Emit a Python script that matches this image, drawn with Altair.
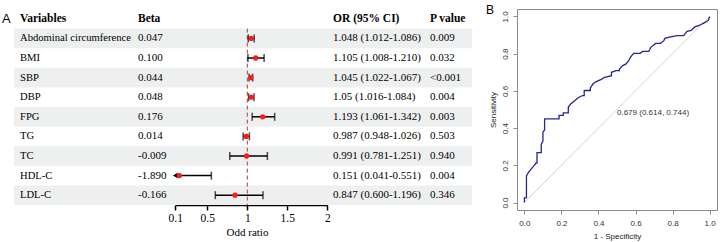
import altair as alt
import pandas as pd

# ---------------- Panel A data ----------------
variables = ["Abdominal circumference", "BMI", "SBP", "DBP", "FPG", "TG", "TC", "HDL-C", "LDL-C"]
beta = ["0.047", "0.100", "0.044", "0.048", "0.176", "0.014", "-0.009", "-1.890", "-0.166"]
odds = [1.048, 1.105, 1.045, 1.05, 1.193, 0.987, 0.991, 0.151, 0.847]
ci_low = [1.012, 1.008, 1.022, 1.016, 1.061, 0.948, 0.781, 0.041, 0.600]
ci_high = [1.086, 1.210, 1.067, 1.084, 1.342, 1.026, 1.251, 0.551, 1.196]
or_text = ["1.048 (1.012-1.086)", "1.105 (1.008-1.210)", "1.045 (1.022-1.067)",
           "1.05 (1.016-1.084)", "1.193 (1.061-1.342)", "0.987 (0.948-1.026)",
           "0.991 (0.781-1.251)", "0.151 (0.041-0.551)", "0.847 (0.600-1.196)"]
p_values = ["0.009", "0.032", "<0.001", "0.004", "0.003", "0.503", "0.940", "0.004", "0.346"]
or_ticks = [0.1, 0.5, 1, 1.5, 2]
or_min = 0.1
reference_or = [1]

# ---------------- Panel B data ----------------
roc_fpr = [0, 0, 0.011, 0.011, 0.023, 0.036, 0.05, 0.064, 0.068, 0.068, 0.091, 0.091,
           0.1, 0.1, 0.109, 0.109, 0.187, 0.187, 0.21, 0.21, 0.237, 0.237, 0.25, 0.273,
           0.29, 0.314, 0.323, 0.323, 0.356, 0.356, 0.371, 0.388, 0.415, 0.433, 0.47,
           0.47, 0.495, 0.513, 0.513, 0.531, 0.549, 0.563, 0.575, 0.59, 0.625, 0.638,
           0.672, 0.682, 0.709, 0.735, 0.753, 0.758, 0.79, 0.825, 0.86, 0.878, 0.9,
           0.922, 0.94, 0.976, 0.994, 1]
roc_tpr = [0, 0.025, 0.025, 0.143, 0.164, 0.18, 0.196, 0.214, 0.214, 0.268, 0.268, 0.312,
           0.33, 0.378, 0.39, 0.45, 0.45, 0.468, 0.468, 0.482, 0.482, 0.512, 0.53, 0.548,
           0.563, 0.575, 0.575, 0.602, 0.602, 0.616, 0.638, 0.65, 0.662, 0.673, 0.682,
           0.7, 0.709, 0.709, 0.718, 0.736, 0.745, 0.762, 0.784, 0.802, 0.802, 0.812,
           0.812, 0.834, 0.855, 0.855, 0.87, 0.882, 0.89, 0.897, 0.897, 0.92, 0.925,
           0.945, 0.95, 0.968, 0.98, 1]
diag = [0, 1]
roc_ticks = [0, 0.2, 0.4, 0.6, 0.8, 1.0]
auc_label = "0.679 (0.614, 0.744)"
auc_pos = (0.5, 0.48)

# ---------------- layout constants ----------------
SERIF = "Liberation Serif"
SANS = "Liberation Sans"
STEP = 19.6
HA = STEP * 10
WA = 472
HEADER = " "
B_TOP = 8.3  # gap above panel B's frame

rows = pd.DataFrame({
    "var": variables, "beta": beta, "or": odds, "lo": ci_low, "hi": ci_high,
    "ortxt": or_text, "p": p_values,
    "shade": [i % 2 == 0 for i in range(len(variables))],
})
header = pd.DataFrame({"var": [HEADER]})
ref = pd.DataFrame({"ref": reference_or})

yenc = alt.Y("var:N", scale=alt.Scale(domain=[HEADER] + variables, paddingInner=0, paddingOuter=0),
             axis=None, sort=None)
xscale = alt.Scale(domain=[or_min, 2], range=[175.3, 327.3], clamp=True, nice=False, zero=False)
axisA = alt.Axis(values=or_ticks, format="~g", title="Odd ratio", grid=False,
                 domainColor="black", domainWidth=1.5, tickColor="black", tickWidth=1.5,
                 tickSize=5, labelFont=SERIF, labelFontSize=11.5, labelColor="black",
                 labelPadding=2, labelFlush=False, labelOverlap=False, titleFont=SERIF,
                 titleFontSize=11, titleFontWeight="normal", titleColor="black",
                 titlePadding=3, titleX=247)

bands = alt.Chart(rows).transform_filter("datum.shade").mark_rect(color="#eef0f0").encode(
    y=yenc, x=alt.value(14), x2=alt.value(WA))

refline = alt.Chart(ref).mark_rule(color="#a8423a", strokeDash=[4, 3], strokeWidth=1).encode(
    x=alt.X("ref:Q", scale=xscale, axis=axisA), y=alt.value(STEP), y2=alt.value(HA))

ci = alt.Chart(rows).mark_rule(color="black", strokeWidth=1.5).encode(
    y=yenc, x=alt.X("lo:Q", scale=xscale, axis=axisA), x2="hi:Q")
cap_lo = alt.Chart(rows).transform_filter(f"datum.lo >= {or_min}").mark_tick(
    color="black", thickness=1.5, size=8).encode(
    y=yenc, x=alt.X("lo:Q", scale=xscale, axis=axisA))
arrow_lo = alt.Chart(rows).transform_filter(f"datum.lo < {or_min}").mark_point(
    shape="triangle-left", filled=True, color="black", size=30, opacity=1).encode(
    y=yenc, x=alt.X("lo:Q", scale=xscale, axis=axisA))
cap_hi = alt.Chart(rows).mark_tick(color="black", thickness=1.5, size=8).encode(
    y=yenc, x=alt.X("hi:Q", scale=xscale, axis=axisA))
pts = alt.Chart(rows).mark_circle(color="#ff1a1a", size=28, opacity=1).encode(
    y=yenc, x=alt.X("or:Q", scale=xscale, axis=axisA))


def col_text(field, xpos, size=11):
    return alt.Chart(rows).mark_text(align="left", baseline="middle", font=SERIF,
                                     fontSize=size, color="black").encode(
        y=yenc, x=alt.value(xpos), text=f"{field}:N")


def head_text(label, xpos):
    return alt.Chart(header).mark_text(align="left", baseline="middle", font=SERIF,
                                       fontSize=11.5, fontWeight="bold", color="black").encode(
        y=yenc, x=alt.value(xpos), text=alt.value(label))


letterA = alt.Chart(header).mark_text(align="left", baseline="middle", font=SANS,
                                      fontSize=13, color="black").encode(
    y=yenc, x=alt.value(2), text=alt.value("A"))

panelA = alt.layer(
    bands, refline, ci, cap_lo, arrow_lo, cap_hi, pts,
    col_text("var", 20, 10.6), col_text("beta", 138), col_text("ortxt", 333), col_text("p", 430),
    head_text("Variables", 20), head_text("Beta", 138), head_text("OR (95% CI)", 333),
    head_text("P value", 430), letterA,
).properties(width=WA, height=HA, view=alt.ViewBackground(stroke=None))

# ---------------- Panel B ----------------
roc = pd.DataFrame({"fpr": roc_fpr, "tpr": roc_tpr, "idx": list(range(len(roc_fpr)))})
dg = pd.DataFrame({"fpr": diag, "tpr": diag})

bx = alt.Scale(domain=[-0.04, 1.04], nice=False, zero=False)
by = alt.Scale(domain=[-0.04, 1.04], nice=False, zero=False)
common = dict(values=roc_ticks, format=".1f", grid=False, domain=False, tickColor="#8c8c8c",
              tickSize=4, labelFont=SANS, labelFontSize=8, labelColor="#333333",
              titleFont=SANS, titleFontSize=8, titleFontWeight="normal", titleColor="#222222",
              labelFlush=False, labelOverlap=False, labelSeparation=0)
axisBx = alt.Axis(title="1 - Specificity", labelPadding=5, titlePadding=5, **common)
axisBy = alt.Axis(title="Sensitivity", labelAngle=270, labelPadding=4, titlePadding=4, **common)

diag_line = alt.Chart(dg).mark_line(color="#d6d6d6", strokeWidth=1).encode(
    x=alt.X("fpr:Q", scale=bx, axis=axisBx), y=alt.Y("tpr:Q", scale=by, axis=axisBy))
roc_line = alt.Chart(roc).mark_line(color="#262690", strokeWidth=1.3).encode(
    x=alt.X("fpr:Q", scale=bx, axis=axisBx), y=alt.Y("tpr:Q", scale=by, axis=axisBy),
    order="idx:Q")
auc = alt.Chart(header).mark_text(align="left", baseline="middle", font=SANS, fontSize=8,
                                  color="#333333").encode(
    x=alt.X(datum=auc_pos[0], scale=bx, axis=axisBx),
    y=alt.Y(datum=auc_pos[1], scale=by, axis=axisBy),
    text=alt.value(auc_label))
letterB = alt.Chart(header).mark_text(align="left", baseline="middle", font=SANS,
                                      fontSize=12, color="black").encode(
    x=alt.value(-31), y=alt.value(1), text=alt.value("B"))
# invisible spacer so the frame of panel B sits a little lower than panel A's top
spacer = alt.Chart(header).mark_text(align="left", baseline="top", font=SANS,
                                     fontSize=4, opacity=0).encode(
    x=alt.value(0), y=alt.value(-B_TOP), text=alt.value("B"))

panelB = alt.layer(diag_line, roc_line, auc, letterB, spacer).properties(
    width=200, height=201, view=alt.ViewBackground(stroke="#8c8c8c", strokeWidth=1))

chart = alt.hconcat(panelA, panelB, spacing=13).properties(
    padding={"left": 0, "top": 0, "right": 0, "bottom": 0}
).configure_view(stroke=None)

chart.save("out.html", embed_options={"renderer": "svg", "actions": False})
